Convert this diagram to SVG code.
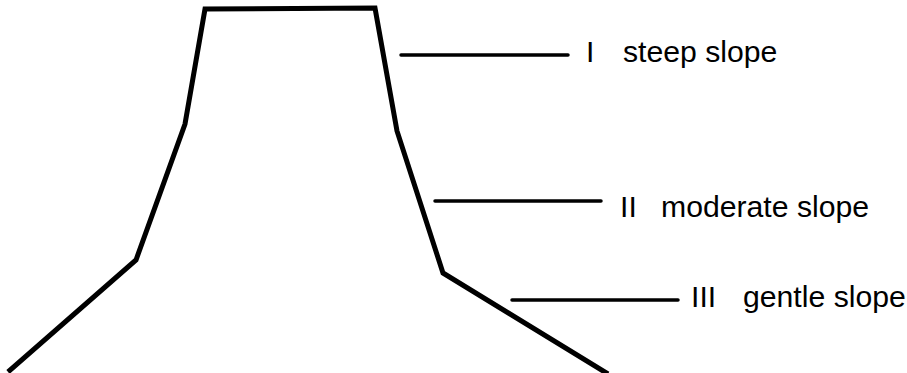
<svg xmlns="http://www.w3.org/2000/svg" width="907" height="373" viewBox="0 0 907 373">
<style>
.outline{fill:none;stroke:#000;stroke-width:5;stroke-linejoin:miter;stroke-linecap:butt}
.lead{stroke:#000;stroke-width:3.5;stroke-linecap:round}
.lbl{font-family:"Liberation Sans",Arial,sans-serif;font-size:30.2px;fill:#000}
</style>
<rect width="907" height="373" fill="#fff"/>
<g id="mountain">
<polyline class="outline" points="8,372 136,260 185,124 205,9 375,8 397,131 443,273 608,374"/>
</g>
<g id="connectors">
<line class="lead" x1="401" y1="55" x2="568" y2="55"/>
<line class="lead" x1="435" y1="201" x2="601" y2="201"/>
<line class="lead" x1="512" y1="300" x2="678" y2="300"/>
</g>
<g id="label-1">
<text class="lbl" y="62"><tspan x="586">I</tspan><tspan x="623">steep slope</tspan></text>
</g>
<g id="label-2">
<text class="lbl" y="217"><tspan x="620">II</tspan><tspan x="661">moderate slope</tspan></text>
</g>
<g id="label-3">
<text class="lbl" y="307"><tspan x="691">III</tspan><tspan x="743">gentle slope</tspan></text>
</g>
</svg>
